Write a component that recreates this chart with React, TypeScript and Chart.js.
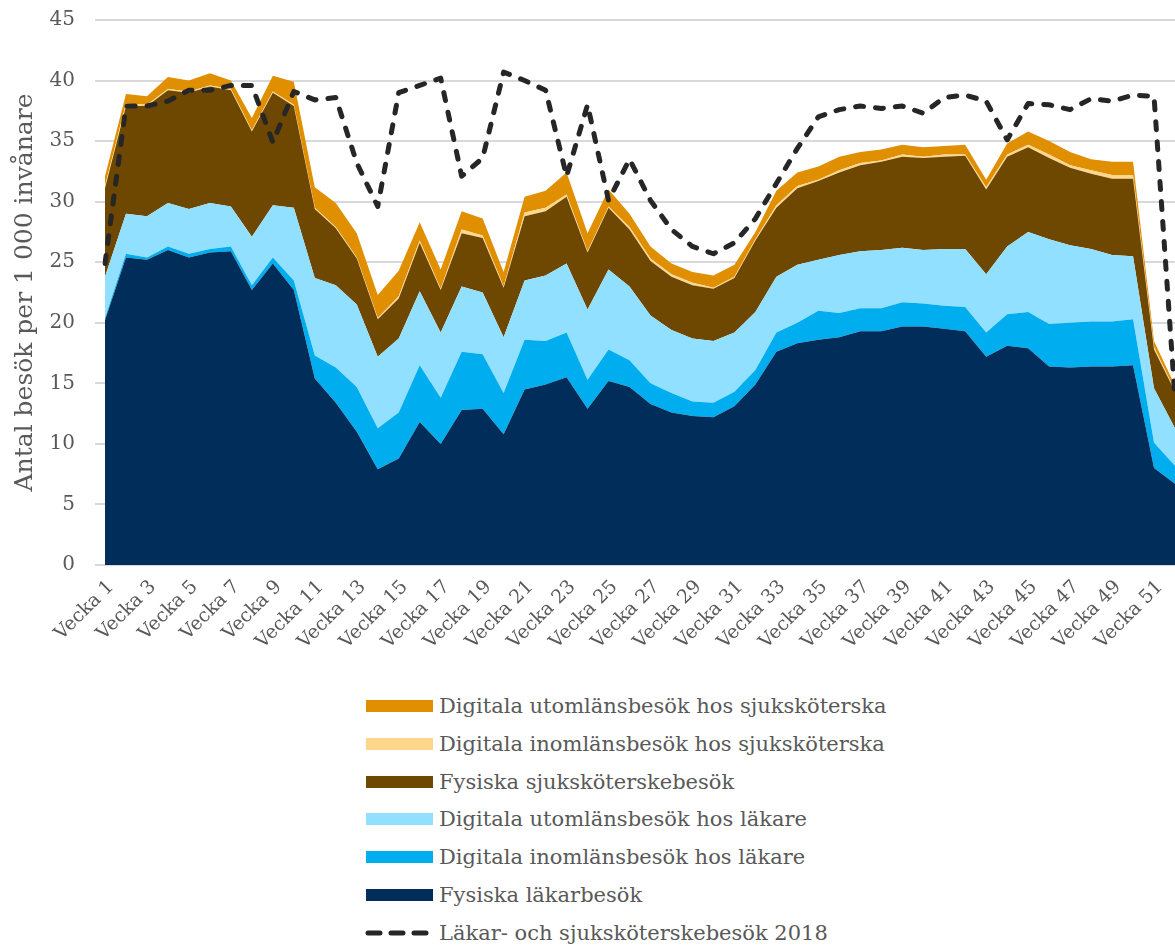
import React, { useEffect, useRef } from "react";
import { Chart, registerables } from "chart.js";

Chart.register(...registerables);

const FONT = "'DejaVu Serif', serif";
const TEXT = "#595959";

const weeks: string[] = Array.from({ length: 52 }, (_, i) => `Vecka ${i + 1}`);

// Individual (non-cumulative) series values, visits per 1 000 inhabitants
const fysiskaLakar = [
  20.2, 25.4, 25.2, 26.0, 25.4, 25.8, 25.9, 22.7, 24.9, 22.7, 15.4, 13.4, 11.0,
  7.9, 8.8, 11.8, 10.0, 12.8, 12.9, 10.8, 14.5, 14.9, 15.5, 12.9, 15.2, 14.7,
  13.3, 12.6, 12.3, 12.2, 13.1, 14.9, 17.6, 18.3, 18.6, 18.8, 19.3, 19.3, 19.7,
  19.7, 19.5, 19.3, 17.2, 18.1, 17.9, 16.4, 16.3, 16.4, 16.4, 16.5, 8.0, 6.7,
];
const digInomLakar = [
  0.2, 0.3, 0.2, 0.3, 0.3, 0.3, 0.4, 0.4, 0.5, 0.8, 1.9, 2.9, 3.7, 3.4, 3.8,
  4.7, 3.8, 4.8, 4.5, 3.4, 4.1, 3.6, 3.7, 2.4, 2.6, 2.2, 1.7, 1.6, 1.2, 1.2,
  1.2, 1.2, 1.6, 1.7, 2.4, 2.0, 1.9, 1.9, 2.0, 1.9, 1.9, 2.0, 2.0, 2.6, 3.0,
  3.5, 3.7, 3.7, 3.7, 3.8, 2.1, 1.5,
];
const digUtomLakar = [
  3.4, 3.3, 3.4, 3.6, 3.7, 3.8, 3.3, 4.0, 4.3, 6.0, 6.4, 6.8, 6.8, 5.9, 6.1,
  6.1, 5.4, 5.4, 5.1, 4.6, 4.9, 5.4, 5.7, 5.8, 6.6, 6.1, 5.6, 5.2, 5.2, 5.1,
  4.9, 4.8, 4.6, 4.8, 4.2, 4.8, 4.7, 4.8, 4.5, 4.4, 4.7, 4.8, 4.8, 5.6, 6.6,
  7.0, 6.4, 6.0, 5.5, 5.2, 4.5, 3.1,
];
const fysiskaSjuk = [
  7.3, 8.9, 9.1, 9.3, 9.6, 9.6, 9.6, 8.7, 9.3, 8.4, 5.7, 4.7, 3.8, 3.1, 3.3,
  4.0, 3.5, 4.4, 4.5, 4.1, 5.3, 5.3, 5.5, 4.7, 5.1, 4.7, 4.5, 4.4, 4.4, 4.3,
  4.5, 5.9, 5.7, 6.3, 6.5, 6.8, 7.1, 7.3, 7.5, 7.6, 7.6, 7.7, 7.0, 7.4, 7.0,
  6.7, 6.4, 6.2, 6.3, 6.4, 3.2, 3.0,
];
const digInomSjuk = [
  0.2, 0.2, 0.1, 0.1, 0.1, 0.1, 0.1, 0.1, 0.1, 0.1, 0.1, 0.1, 0.1, 0.1, 0.2,
  0.2, 0.1, 0.3, 0.2, 0.1, 0.3, 0.3, 0.2, 0.1, 0.1, 0.2, 0.2, 0.2, 0.2, 0.1,
  0.1, 0.1, 0.2, 0.2, 0.1, 0.2, 0.2, 0.1, 0.2, 0.1, 0.2, 0.1, 0.2, 0.2, 0.2,
  0.3, 0.2, 0.3, 0.3, 0.3, 0.2, 0.1,
];
const digUtomSjuk = [
  0.8, 0.8, 0.7, 1.0, 0.9, 1.0, 0.7, 1.0, 1.3, 1.9, 1.7, 2.0, 2.0, 1.9, 2.1,
  1.5, 1.6, 1.5, 1.4, 1.2, 1.3, 1.4, 1.8, 1.5, 1.4, 1.1, 1.0, 0.9, 0.9, 1.0,
  1.0, 0.6, 1.2, 1.1, 1.1, 1.1, 0.9, 0.9, 0.8, 0.8, 0.7, 0.8, 0.6, 0.9, 1.1,
  1.1, 1.1, 0.9, 1.1, 1.1, 0.5, 0.4,
];
const besok2018 = [
  24.9, 37.9, 37.9, 38.3, 39.2, 39.2, 39.6, 39.6, 34.9, 39.1, 38.4, 38.6, 33.2,
  29.6, 39.0, 39.6, 40.2, 32.1, 33.6, 40.7, 40.0, 39.2, 32.1, 38.0, 30.1, 33.5,
  30.1, 27.7, 26.3, 25.7, 26.6, 28.6, 31.5, 34.4, 37.0, 37.6, 37.9, 37.7, 37.9,
  37.3, 38.6, 38.8, 38.3, 35.1, 38.1, 38.0, 37.6, 38.5, 38.3, 38.8, 38.7, 13.8,
];

const areaSeries = [
  { label: "Fysiska läkarbesök", data: fysiskaLakar, color: "#012D5A" },
  { label: "Digitala inomlänsbesök hos läkare", data: digInomLakar, color: "#00AEEF" },
  { label: "Digitala utomlänsbesök hos läkare", data: digUtomLakar, color: "#92E0FF" },
  { label: "Fysiska sjuksköterskebesök", data: fysiskaSjuk, color: "#6E4700" },
  { label: "Digitala inomlänsbesök hos sjuksköterska", data: digInomSjuk, color: "#FFD68C" },
  { label: "Digitala utomlänsbesök hos sjuksköterska", data: digUtomSjuk, color: "#E08F00" },
];
const lineLabel = "Läkar- och sjuksköterskebesök 2018";
const lineColor = "#262626";

const CANVAS_W = 1175;
const CANVAS_H = 680;
const LEGEND_FONT = 21;

export default function App() {
  const ref = useRef<HTMLCanvasElement | null>(null);

  useEffect(() => {
    if (!ref.current) return;
    const datasets: any[] = [
      {
        label: lineLabel,
        data: besok2018,
        stack: "ref",
        fill: false,
        borderColor: lineColor,
        borderWidth: 5,
        borderDash: [8, 12],
        borderCapStyle: "round",
        borderJoinStyle: "round",
        pointRadius: 0,
        tension: 0,
      },
      ...areaSeries.map((s, i) => ({
        label: s.label,
        data: s.data,
        stack: "main",
        fill: i === 0 ? "origin" : "-1",
        backgroundColor: s.color,
        borderColor: "rgba(0,0,0,0)",
        borderWidth: 0,
        pointRadius: 0,
        tension: 0,
      })),
    ];
    const chart = new Chart(ref.current, {
      type: "line",
      data: { labels: weeks, datasets },
      options: {
        animation: false,
        responsive: false,
        maintainAspectRatio: false,
        layout: { padding: { top: 20, right: 0, left: 0, bottom: 0 } },
        plugins: { legend: { display: false }, tooltip: { enabled: false } },
        scales: {
          x: {
            grid: { display: false, drawTicks: false },
            border: { display: false },
            ticks: {
              autoSkip: false,
              maxRotation: 45,
              minRotation: 45,
              color: TEXT,
              font: { family: FONT, size: 19 },
              padding: 11,
              labelOffset: 6,
              callback: (_v: any, i: number) => (i % 2 === 0 ? weeks[i] : ""),
            },
            afterFit: (s: any) => {
              s.height = CANVAS_H - 565;
              s.paddingRight = 0;
              s.paddingLeft = 0;
            },
          },
          y: {
            stacked: true,
            min: 0,
            max: 45,
            ticks: {
              stepSize: 5,
              color: TEXT,
              font: { family: FONT, size: 20 },
              padding: 20,
            },
            grid: { color: "#d9d9d9", lineWidth: 2, tickLength: 10, drawTicks: true },
            border: { display: false },
            title: {
              display: true,
              text: "Antal besök per 1 000 invånare",
              color: TEXT,
              font: { family: FONT, size: 25 },
              padding: { top: 10, bottom: 0 },
            },
            afterFit: (s: any) => {
              s.width = 105;
              s.paddingTop = 0;
              s.paddingBottom = 0;
            },
          },
        },
      },
    });
    return () => chart.destroy();
  }, []);

  const legendItems = [...areaSeries].reverse();
  const rowY = (i: number) => 706 + i * 37.8;
  const textStyle = (i: number): React.CSSProperties => ({
    position: "absolute",
    left: 439,
    top: rowY(i) - 15,
    height: 30,
    lineHeight: "30px",
    fontFamily: FONT,
    fontSize: LEGEND_FONT,
    color: TEXT,
    whiteSpace: "nowrap",
  });

  return (
    <div style={{ position: "absolute", left: 0, top: 0, width: 1175, height: 947, background: "#fff" }}>
      <canvas ref={ref} width={CANVAS_W} height={CANVAS_H} style={{ position: "absolute", left: 0, top: 0 }} />
      {legendItems.map((s, i) => (
        <div key={s.label}>
          <div
            style={{
              position: "absolute",
              left: 366,
              top: rowY(i) - 6,
              width: 67,
              height: 12,
              background: s.color,
            }}
          />
          <div style={textStyle(i)}>{s.label}</div>
        </div>
      ))}
      <svg
        style={{ position: "absolute", left: 362, top: rowY(6) - 6 }}
        width={75}
        height={12}
      >
        <line
          x1={6}
          y1={6}
          x2={66}
          y2={6}
          stroke={lineColor}
          strokeWidth={5}
          strokeDasharray="12 11"
          strokeLinecap="round"
        />
      </svg>
      <div style={textStyle(6)}>{lineLabel}</div>
    </div>
  );
}
